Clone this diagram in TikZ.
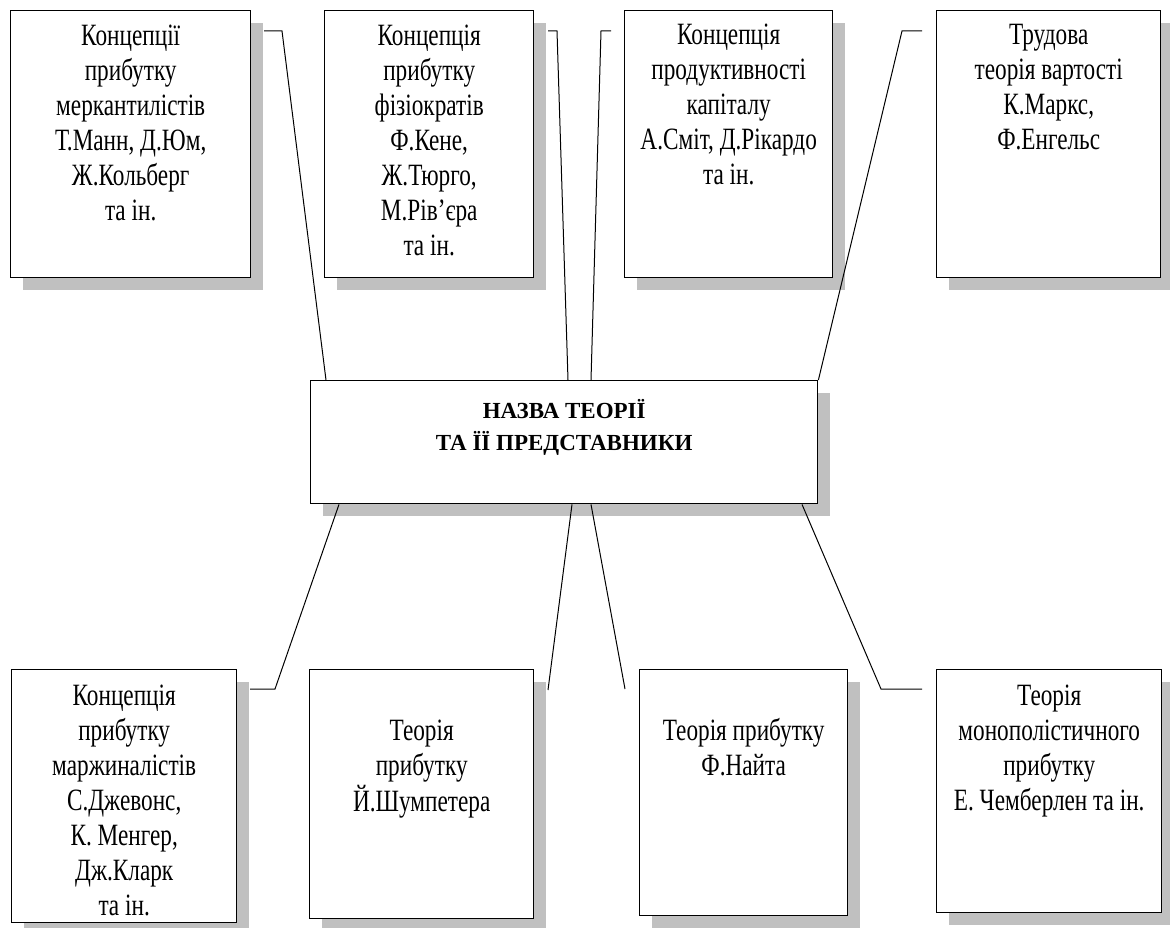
\documentclass[tikz,border=0pt]{standalone}
\usepackage{fontspec}
\usepackage{graphicx}
\setmainfont{Liberation Serif}
\usetikzlibrary{calc,shadows}
\definecolor{shadowgray}{RGB}{192,192,192}
\newcommand{\condlines}[1]{\scalebox{0.75}[1]{\begin{tabular}[t]{@{}c@{}}#1\end{tabular}}}
\newcommand{\titlelines}[1]{\begin{tabular}[t]{@{}c@{}}#1\end{tabular}}
\tikzset{
  card/.style={draw=black, fill=white, line width=1.4pt, inner sep=0pt, anchor=north west,
    drop shadow={shadow xshift=12pt, shadow yshift=-12pt, fill=shadowgray, opacity=1, draw=none}},
  cardtext/.style={anchor=base, inner sep=0pt, font=\fontsize{31}{35}\selectfont},
  titletext/.style={anchor=base, inner sep=0pt, font=\fontsize{23}{32}\selectfont\bfseries},
  link/.style={draw=black, line width=1pt},
}
\begin{document}
\begin{tikzpicture}[x=1pt,y=-1pt]
\useasboundingbox (0,0) rectangle (1170,928);

% top boxes
\node[card, minimum width=240pt, minimum height=267pt] (b1) at (10,10) {};
\node[card, minimum width=209pt, minimum height=267pt] (b2) at (324,10) {};
\node[card, minimum width=208pt, minimum height=267pt] (b3) at (624,10) {};
\node[card, minimum width=224pt, minimum height=267pt] (b4) at (936,10) {};

% centre box
\node[card, minimum width=507pt, minimum height=123pt] (ctr) at (310,380) {};

% bottom boxes
\node[card, minimum width=225pt, minimum height=253pt] (b5) at (11,669) {};
\node[card, minimum width=224pt, minimum height=249pt] (b6) at (309,669) {};
\node[card, minimum width=208pt, minimum height=246pt] (b7) at (639,669) {};
\node[card, minimum width=225pt, minimum height=243pt] (b8) at (936,669) {};

% texts
\node[cardtext] (t1) at ($(b1.north)+(0,36)$) {\condlines{Концепції\\прибутку\\меркантилістів\\Т.Манн, Д.Юм,\\Ж.Кольберг\\та ін.}};
\node[cardtext] (t2) at ($(b2.north)+(0,36)$) {\condlines{Концепція\\прибутку\\фізіократів\\Ф.Кене,\\Ж.Тюрго,\\М.Рів’єра\\та ін.}};
\node[cardtext] (t3) at ($(b3.north)+(0,35)$) {\condlines{Концепція\\продуктивності\\капіталу\\А.Сміт, Д.Рікардо\\та ін.}};
\node[cardtext] (t4) at ($(b4.north)+(0,35)$) {\condlines{Трудова\\теорія вартості\\К.Маркс,\\Ф.Енгельс}};
\node[titletext] (tc) at ($(ctr.north)+(0,38)$) {\titlelines{НАЗВА ТЕОРІЇ\\ТА ЇЇ ПРЕДСТАВНИКИ}};
\node[cardtext] (t5) at ($(b5.north)+(0,36)$) {\condlines{Концепція\\прибутку\\маржиналістів\\С.Джевонс,\\К. Менгер,\\Дж.Кларк\\та ін.}};
\node[cardtext] (t6) at ($(b6.north)+(0,71)$) {\condlines{Теорія\\прибутку\\Й.Шумпетера}};
\node[cardtext] (t7) at ($(b7.north)+(0,71)$) {\condlines{Теорія прибутку\\Ф.Найта}};
\node[cardtext] (t8) at ($(b8.north)+(0,36)$) {\condlines{Теорія\\монополістичного\\прибутку\\Е. Чемберлен та ін.}};

% connector free ends
\coordinate (c1a) at (264,31); \coordinate (c1b) at (282,31);
\coordinate (c2a) at (548,31); \coordinate (c2b) at (557,31);
\coordinate (c3a) at (611,31); \coordinate (c3b) at (601,31);
\coordinate (c4a) at (922,31); \coordinate (c4b) at (902,31);
\coordinate (c5a) at (250,689); \coordinate (c5b) at (275,689);
\coordinate (c6a) at (548,690);
\coordinate (c7a) at (625,689);
\coordinate (c8a) at (922,689); \coordinate (c8b) at (881,689);

% connectors
\draw[link] (c1a) -- (c1b) -- ($(ctr.north west)+(16,0)$);
\draw[link] (c2a) -- (c2b) -- ($(ctr.north west)+(258,0)$);
\draw[link] (c3a) -- (c3b) -- ($(ctr.north west)+(281,0)$);
\draw[link] (c4a) -- (c4b) -- (ctr.north east);
\draw[link] (c5a) -- (c5b) -- ($(ctr.south west)+(29,0)$);
\draw[link] (c6a) -- ($(ctr.south west)+(262,0)$);
\draw[link] (c7a) -- ($(ctr.south west)+(281,0)$);
\draw[link] (c8a) -- (c8b) -- ($(ctr.south west)+(492,0)$);
\end{tikzpicture}
\end{document}
